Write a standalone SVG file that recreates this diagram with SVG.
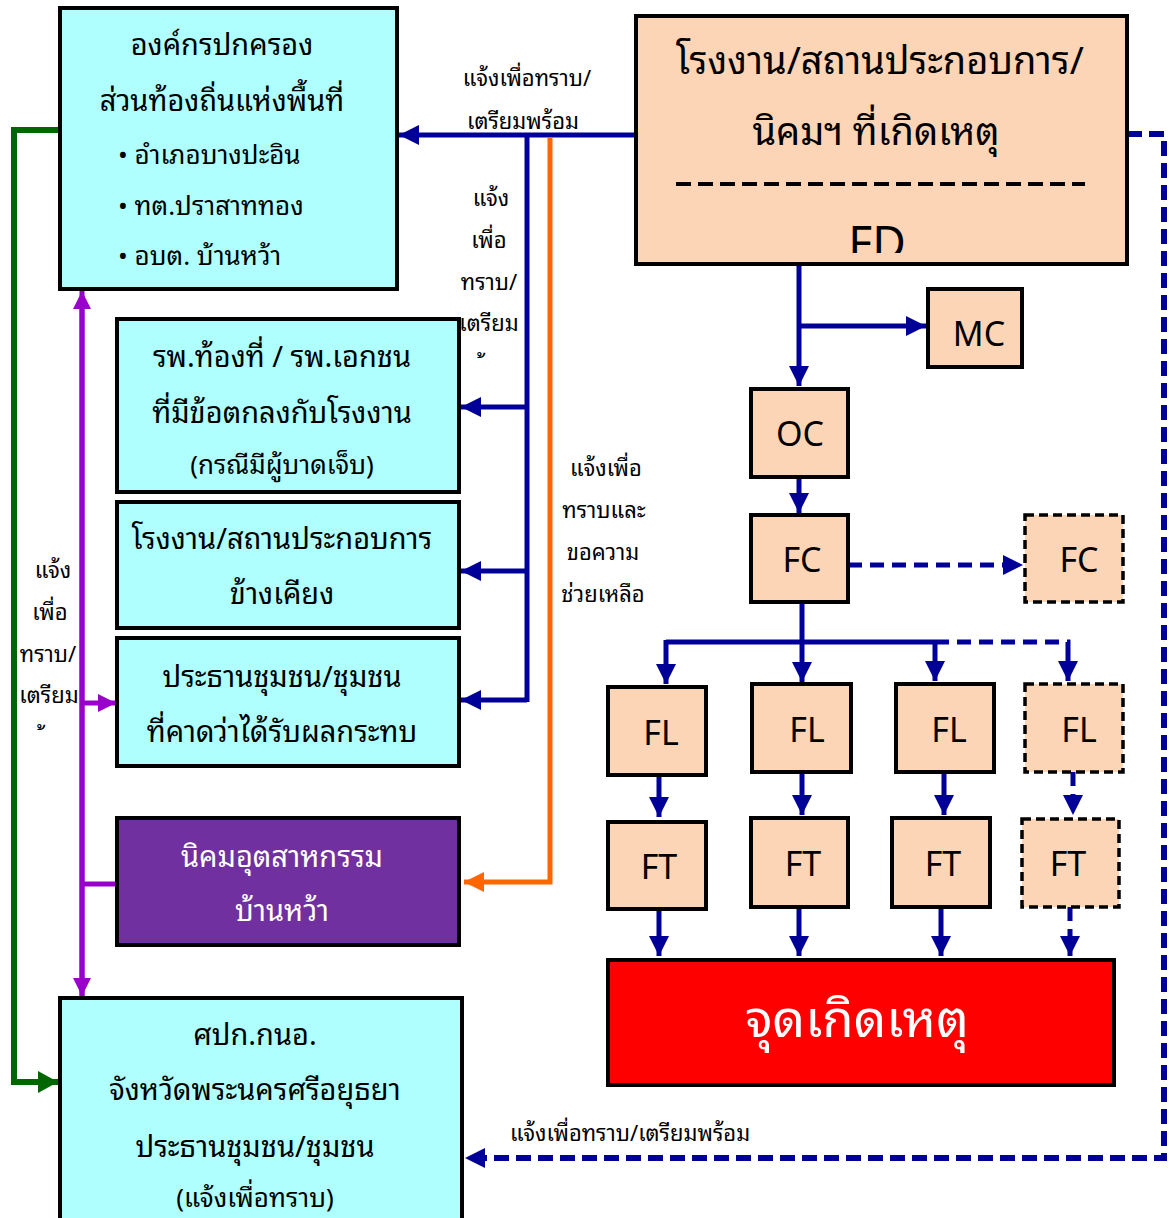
<svg xmlns="http://www.w3.org/2000/svg" width="1169" height="1218" viewBox="0 0 1169 1218">
<style>
.th{font-family:"Noto Sans Thai Looped","Noto Sans Thai","Noto Sans","DejaVu Sans",sans-serif;fill:#000;text-anchor:middle}
.lat{font-family:"Noto Sans","Open Sans",sans-serif;fill:#000;text-anchor:middle}
.cyan{fill:#AFFFFF;stroke:#000;stroke-width:4}
.peach{fill:#FBD5B5;stroke:#000;stroke-width:4}
.peachd{fill:#FBD5B5;stroke:#000;stroke-width:3.5;stroke-dasharray:9 5}
.blue{stroke:#000099;stroke-width:5;fill:none}
.blued{stroke:#000099;stroke-width:5;fill:none;stroke-dasharray:14 8}
.bigd{stroke:#000099;stroke-width:6;fill:none;stroke-dasharray:15 7}
</style>
<defs>
<marker id="ab" markerUnits="userSpaceOnUse" markerWidth="22" markerHeight="20" refX="20" refY="10" orient="auto"><path d="M0,0 L20,10 L0,20 Z" fill="#000099"/></marker>
<marker id="ao" markerUnits="userSpaceOnUse" markerWidth="22" markerHeight="20" refX="20" refY="10" orient="auto"><path d="M0,0 L20,10 L0,20 Z" fill="#FF6600"/></marker>
<marker id="ag" markerUnits="userSpaceOnUse" markerWidth="22" markerHeight="22" refX="20" refY="11" orient="auto"><path d="M0,0 L20,11 L0,22 Z" fill="#006600"/></marker>
<marker id="ap" markerUnits="userSpaceOnUse" markerWidth="20" markerHeight="18" refX="18" refY="9" orient="auto"><path d="M0,0 L18,9 L0,18 Z" fill="#9900CC"/></marker>
<clipPath id="fdclip"><rect x="636" y="16" width="491" height="237"/></clipPath>
</defs>

<g id="connectors">
  <path class="blue" d="M636,135 L399,135" marker-end="url(#ab)"/>
  <path class="blue" d="M527,135 L527,702"/>
  <path class="blue" d="M527,407 L461,407" marker-end="url(#ab)"/>
  <path class="blue" d="M527,571 L461,571" marker-end="url(#ab)"/>
  <path class="blue" d="M527,700 L461,700" marker-end="url(#ab)"/>
  <path d="M550,138 L550,882 L464,882" stroke="#FF6600" stroke-width="5" fill="none" marker-end="url(#ao)"/>
  <path d="M60,130 L14,130 L14,1082 L58,1082" stroke="#006600" stroke-width="6" fill="none" marker-end="url(#ag)"/>
  <path d="M82,997 L82,291" stroke="#9900CC" stroke-width="5" fill="none" marker-end="url(#ap)"/>
  <path d="M82,300 L82,996" stroke="#9900CC" stroke-width="5" fill="none" marker-end="url(#ap)"/>
  <path d="M82,703 L116,703" stroke="#9900CC" stroke-width="5" fill="none" marker-end="url(#ap)"/>
  <path d="M82,884 L117,884" stroke="#9900CC" stroke-width="5" fill="none"/>
  <path class="blue" d="M799,264 L799,386" marker-end="url(#ab)"/>
  <path class="blue" d="M799,326 L926,326" marker-end="url(#ab)"/>
  <path class="blue" d="M799,477 L799,513" marker-end="url(#ab)"/>
  <path class="blued" d="M848,565 L1023,565" marker-end="url(#ab)"/>
  <path class="blue" d="M802,602 L802,682" marker-end="url(#ab)"/>
  <path class="blue" d="M666,642 L935,642"/>
  <path class="blued" d="M935,642 L1068,642 L1068,650"/>
  <path class="blue" d="M666,640 L666,684" marker-end="url(#ab)"/>
  <path class="blue" d="M935,640 L935,681" marker-end="url(#ab)"/>
  <path class="blued" d="M1068,650 L1068,681" marker-end="url(#ab)"/>
  <path class="blue" d="M659,775 L659,817" marker-end="url(#ab)"/>
  <path class="blue" d="M802,772 L802,815" marker-end="url(#ab)"/>
  <path class="blue" d="M944,772 L944,815" marker-end="url(#ab)"/>
  <path class="blued" d="M1073,772 L1073,815" marker-end="url(#ab)"/>
  <path class="blue" d="M659,909 L659,956" marker-end="url(#ab)"/>
  <path class="blue" d="M799,907 L799,956" marker-end="url(#ab)"/>
  <path class="blue" d="M941,907 L941,956" marker-end="url(#ab)"/>
  <path class="blued" d="M1070,907 L1070,956" marker-end="url(#ab)"/>
  <path class="bigd" d="M1127,134 L1164,134 L1164,1158 L465,1158" marker-end="url(#ab)"/>
  <text class="th" font-size="22" x="527" y="86">แจ้งเพื่อทราบ/</text>
  <text class="th" font-size="22" x="523" y="129">เตรียมพร้อม</text>
  <text class="th" font-size="22" x="491" y="206">แจ้ง</text>
  <text class="th" font-size="22" x="489" y="248">เพื่อ</text>
  <text class="th" font-size="22" x="489" y="290">ทราบ/</text>
  <text class="th" font-size="22" x="489" y="331">เตรียม</text>
  <text class="th" font-size="22" x="486" y="373">้</text>
  <text class="th" font-size="22" x="606" y="476">แจ้งเพื่อ</text>
  <text class="th" font-size="22" x="604" y="518">ทราบและ</text>
  <text class="th" font-size="22" x="603" y="560">ขอความ</text>
  <text class="th" font-size="22" x="603" y="602">ช่วยเหลือ</text>
  <text class="th" font-size="22" x="53" y="578">แจ้ง</text>
  <text class="th" font-size="22" x="50" y="620">เพื่อ</text>
  <text class="th" font-size="22" x="48" y="662">ทราบ/</text>
  <text class="th" font-size="22" x="49" y="703">เตรียม</text>
  <text class="th" font-size="22" x="46" y="745">้</text>
  <text class="th" font-size="22" x="630" y="1141">แจ้งเพื่อทราบ/เตรียมพร้อม</text>
</g>

<g id="local-gov">
  <rect class="cyan" x="60" y="8" width="337" height="281"/>
  <text class="th" font-size="29" x="222" y="55">องค์กรปกครอง</text>
  <text class="th" font-size="29" x="222" y="111">ส่วนท้องถิ่นแห่งพื้นที่</text>
  <text class="th" font-size="26" x="118" y="164" style="text-anchor:start">• อำเภอบางปะอิน</text>
  <text class="th" font-size="26" x="118" y="215" style="text-anchor:start">• ทต.ปราสาททอง</text>
  <text class="th" font-size="26" x="118" y="265" style="text-anchor:start">• อบต. บ้านหว้า</text>
</g>

<g id="fd">
  <rect class="peach" x="636" y="16" width="491" height="248"/>
  <text class="th" font-size="38" x="880" y="74">โรงงาน/สถานประกอบการ/</text>
  <text class="th" font-size="38" x="876" y="145">นิคมฯ ที่เกิดเหตุ</text>
  <line x1="676" y1="184" x2="1085" y2="184" stroke="#000" stroke-width="4" stroke-dasharray="15 7"/>
  <text class="lat" font-size="46" x="877" y="259" clip-path="url(#fdclip)">FD</text>
</g>

<g id="hospital">
  <rect class="cyan" x="117" y="319" width="342" height="173"/>
  <text class="th" font-size="29" x="282" y="367">รพ.ท้องที่ / รพ.เอกชน</text>
  <text class="th" font-size="29" x="282" y="423">ที่มีข้อตกลงกับโรงงาน</text>
  <text class="th" font-size="26" x="282" y="474">(กรณีมีผู้บาดเจ็บ)</text>
</g>

<g id="neighbor">
  <rect class="cyan" x="117" y="502" width="342" height="126"/>
  <text class="th" font-size="29" x="282" y="549">โรงงาน/สถานประกอบการ</text>
  <text class="th" font-size="29" x="282" y="604">ข้างเคียง</text>
</g>

<g id="community">
  <rect class="cyan" x="117" y="638" width="342" height="128"/>
  <text class="th" font-size="29" x="282" y="687">ประธานชุมชน/ชุมชน</text>
  <text class="th" font-size="29" x="282" y="742">ที่คาดว่าได้รับผลกระทบ</text>
</g>

<g id="estate">
  <rect x="117" y="818" width="342" height="127" fill="#7030A0" stroke="#000" stroke-width="4"/>
  <text class="th" font-size="29" x="282" y="867" style="fill:#fff">นิคมอุตสาหกรรม</text>
  <text class="th" font-size="29" x="282" y="921" style="fill:#fff">บ้านหว้า</text>
</g>

<g id="province">
  <rect class="cyan" x="60" y="998" width="402" height="230"/>
  <text class="th" font-size="29" x="255" y="1045">ศปก.กนอ.</text>
  <text class="th" font-size="29" x="255" y="1100">จังหวัดพระนครศรีอยุธยา</text>
  <text class="th" font-size="29" x="255" y="1157">ประธานชุมชน/ชุมชน</text>
  <text class="th" font-size="26" x="255" y="1207">(แจ้งเพื่อทราบ)</text>
</g>

<g id="mc"><rect class="peach" x="928" y="289" width="94" height="78"/><text class="lat" font-size="34" x="979" y="346">MC</text></g>
<g id="oc"><rect class="peach" x="751" y="389" width="97" height="88"/><text class="lat" font-size="34" x="800" y="446">OC</text></g>
<g id="fc"><rect class="peach" x="751" y="515" width="97" height="87"/><text class="lat" font-size="34" x="802" y="572">FC</text></g>
<g id="fc2"><rect class="peachd" x="1025" y="515" width="98" height="87"/><text class="lat" font-size="34" x="1079" y="572">FC</text></g>
<g id="fl1"><rect class="peach" x="608" y="687" width="98" height="88"/><text class="lat" font-size="34" x="661" y="745">FL</text></g>
<g id="fl2"><rect class="peach" x="752" y="684" width="99" height="88"/><text class="lat" font-size="34" x="807" y="742">FL</text></g>
<g id="fl3"><rect class="peach" x="896" y="684" width="98" height="88"/><text class="lat" font-size="34" x="949" y="742">FL</text></g>
<g id="fl4"><rect class="peachd" x="1025" y="684" width="98" height="88"/><text class="lat" font-size="34" x="1079" y="742">FL</text></g>
<g id="ft1"><rect class="peach" x="608" y="822" width="98" height="87"/><text class="lat" font-size="34" x="659" y="879">FT</text></g>
<g id="ft2"><rect class="peach" x="751" y="818" width="97" height="89"/><text class="lat" font-size="34" x="803" y="876">FT</text></g>
<g id="ft3"><rect class="peach" x="892" y="818" width="98" height="89"/><text class="lat" font-size="34" x="943" y="876">FT</text></g>
<g id="ft4"><rect class="peachd" x="1022" y="819" width="97" height="88"/><text class="lat" font-size="34" x="1068" y="876">FT</text></g>

<g id="incident">
  <rect x="608" y="960" width="506" height="125" fill="#FF0000" stroke="#000" stroke-width="4"/>
  <text class="th" font-size="51" x="857" y="1037" style="fill:#fff">จุดเกิดเหตุ</text>
</g>
</svg>
